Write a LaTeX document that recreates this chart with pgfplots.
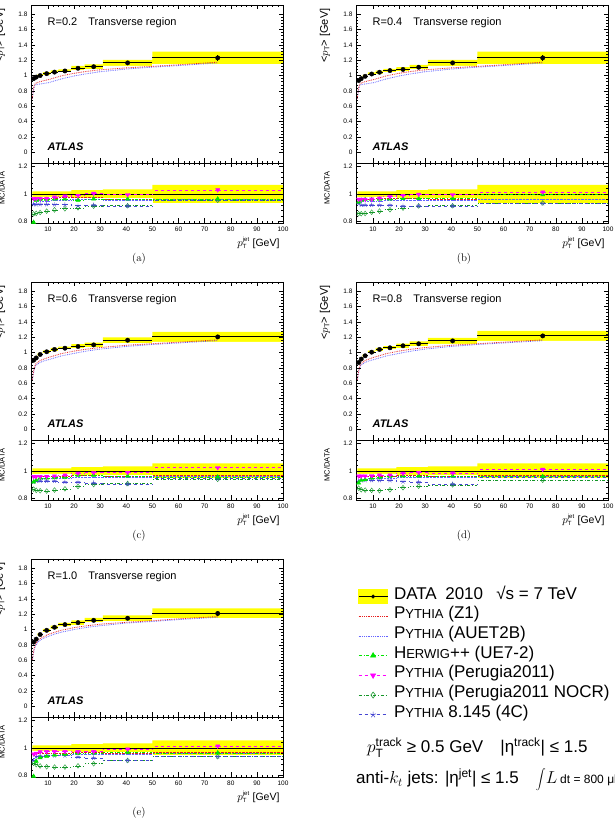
\documentclass[border=0pt]{standalone}
\usepackage{fontspec}
\usepackage{pgfplots}
\pgfplotsset{compat=1.18}
\usepackage{pgfplotstable}
\newfontfamily\arial{Liberation Sans}

\definecolor{bandyellow}{RGB}{255,255,0}
\definecolor{z1red}{RGB}{230,30,30}
\definecolor{aublue}{RGB}{100,100,255}
\definecolor{hwgreen}{RGB}{0,230,0}
\definecolor{pemag}{RGB}{255,0,255}
\definecolor{ncgreen}{RGB}{20,150,40}
\definecolor{p8blue}{RGB}{70,70,210}

\newcommand\sco[1]{{\fontsize{13}{13}\selectfont #1}}

% bin table: centre, half width, data, stat. error, data/data, MC/data ratios
\pgfplotstableread{
x xe y ey r z1 au hw pe nc p8
4.5 0.5 0.960 0.008 1 0.955 0.935 0.795 0.967 0.856 0.925
5.5 0.5 0.980 0.008 1 0.960 0.940 0.955 0.967 0.860 0.925
7 1 1.000 0.008 1 0.965 0.945 0.960 0.967 0.866 0.925
9.5 1.5 1.025 0.008 1 0.970 0.950 0.960 0.968 0.876 0.925
12.5 1.5 1.045 0.008 1 0.970 0.955 0.965 0.978 0.885 0.924
16.5 2.5 1.060 0.010 1 0.975 0.955 0.965 0.986 0.893 0.922
21.5 2.5 1.095 0.010 1 0.975 0.960 0.955 0.990 0.900 0.915
27.5 3.5 1.115 0.012 1 0.975 0.960 0.965 1.005 0.912 0.920
40.5 9.5 1.165 0.015 1 0.965 0.955 0.965 0.995 0.915 0.914
75 25 1.230 0.035 1 0.965 0.960 0.965 1.030 0.955 0.958
}\ptsA
\pgfplotstableread{
x xe y ey r z1 au hw pe nc p8
4.5 0.5 0.935 0.008 1 0.955 0.935 0.943 0.962 0.857 0.930
5.5 0.5 0.960 0.008 1 0.960 0.940 0.955 0.962 0.857 0.921
7 1 0.990 0.008 1 0.965 0.945 0.960 0.962 0.859 0.921
9.5 1.5 1.020 0.008 1 0.965 0.950 0.960 0.963 0.868 0.921
12.5 1.5 1.043 0.008 1 0.970 0.950 0.962 0.971 0.876 0.921
16.5 2.5 1.065 0.010 1 0.970 0.955 0.965 0.980 0.886 0.921
21.5 2.5 1.080 0.010 1 0.970 0.955 0.967 0.990 0.898 0.914
27.5 3.5 1.108 0.012 1 0.970 0.955 0.967 0.998 0.914 0.914
40.5 9.5 1.165 0.015 1 0.965 0.955 0.967 0.995 0.915 0.914
75 25 1.230 0.035 1 0.965 0.960 0.995 1.014 0.935 0.933
}\ptsB
\pgfplotstableread{
x xe y ey r z1 au hw pe nc p8
4.5 0.5 0.900 0.008 1 0.955 0.930 0.921 0.960 0.869 0.921
5.5 0.5 0.930 0.008 1 0.955 0.935 0.936 0.960 0.860 0.929
7 1 0.975 0.008 1 0.960 0.940 0.950 0.960 0.857 0.929
9.5 1.5 1.010 0.008 1 0.960 0.945 0.950 0.961 0.855 0.929
12.5 1.5 1.040 0.008 1 0.965 0.945 0.952 0.964 0.862 0.929
16.5 2.5 1.057 0.010 1 0.965 0.950 0.955 0.971 0.871 0.921
21.5 2.5 1.079 0.010 1 0.970 0.955 0.970 0.983 0.888 0.921
27.5 3.5 1.100 0.012 1 0.970 0.955 0.970 0.988 0.902 0.914
40.5 9.5 1.161 0.015 1 0.965 0.955 0.964 0.990 0.910 0.905
75 25 1.204 0.030 1 0.970 0.960 0.957 1.024 0.940 0.945
}\ptsC
\pgfplotstableread{
x xe y ey r z1 au hw pe nc p8
4.5 0.5 0.870 0.008 1 0.955 0.930 0.914 0.964 0.876 0.925
5.5 0.5 0.915 0.008 1 0.955 0.935 0.933 0.964 0.864 0.933
7 1 0.958 0.008 1 0.960 0.940 0.938 0.964 0.862 0.933
9.5 1.5 1.005 0.008 1 0.960 0.945 0.950 0.966 0.860 0.933
12.5 1.5 1.040 0.008 1 0.965 0.945 0.955 0.971 0.857 0.933
16.5 2.5 1.062 0.010 1 0.965 0.950 0.960 0.971 0.864 0.933
21.5 2.5 1.088 0.010 1 0.970 0.955 0.965 0.983 0.879 0.924
27.5 3.5 1.114 0.012 1 0.970 0.955 0.965 0.990 0.890 0.921
40.5 9.5 1.152 0.015 1 0.965 0.955 0.965 0.986 0.900 0.905
75 25 1.217 0.030 1 0.970 0.960 0.960 1.012 0.933 0.952
}\ptsD
\pgfplotstableread{
x xe y ey r z1 au hw pe nc p8
4.5 0.5 0.836 0.008 1 0.950 0.925 0.795 0.957 0.890 0.910
5.5 0.5 0.875 0.008 1 0.955 0.930 0.905 0.962 0.880 0.938
7 1 0.935 0.008 1 0.960 0.935 0.930 0.972 0.870 0.943
9.5 1.5 0.990 0.008 1 0.960 0.940 0.940 0.974 0.864 0.945
12.5 1.5 1.030 0.008 1 0.965 0.945 0.950 0.974 0.862 0.945
16.5 2.5 1.065 0.010 1 0.965 0.950 0.955 0.974 0.862 0.945
21.5 2.5 1.090 0.010 1 0.970 0.955 0.960 0.974 0.871 0.936
27.5 3.5 1.120 0.012 1 0.970 0.955 0.965 0.974 0.886 0.929
40.5 9.5 1.147 0.015 1 0.965 0.955 0.970 0.993 0.910 0.910
75 25 1.210 0.030 1 0.970 0.960 0.965 1.014 0.938 0.938
}\ptsE

% systematic bands at the bin edges (main panel and ratio panel)
\pgfplotstableread{
xe lo hi rlo rhi
4 0.941 0.979 0.980 1.020
5 0.960 1.000 0.980 1.020
6 0.980 1.020 0.980 1.020
8 1.004 1.046 0.980 1.020
11 1.024 1.066 0.980 1.020
14 1.039 1.081 0.980 1.020
19 1.064 1.126 0.972 1.028
24 1.084 1.146 0.972 1.028
31 1.127 1.203 0.967 1.033
50 1.149 1.311 0.934 1.066
100 1.149 1.311 0.934 1.066
}\bandA
\pgfplotstableread{
xe lo hi rlo rhi
4 0.916 0.954 0.980 1.020
5 0.941 0.979 0.980 1.020
6 0.970 1.010 0.980 1.020
8 1.000 1.040 0.980 1.020
11 1.022 1.064 0.980 1.020
14 1.044 1.086 0.980 1.020
19 1.050 1.110 0.972 1.028
24 1.077 1.139 0.972 1.028
31 1.127 1.203 0.967 1.033
50 1.149 1.311 0.934 1.066
100 1.149 1.311 0.934 1.066
}\bandB
\pgfplotstableread{
xe lo hi rlo rhi
4 0.882 0.918 0.980 1.020
5 0.911 0.949 0.980 1.020
6 0.955 0.995 0.980 1.020
8 0.990 1.030 0.980 1.020
11 1.019 1.061 0.980 1.020
14 1.036 1.078 0.980 1.020
19 1.049 1.109 0.972 1.028
24 1.069 1.131 0.972 1.028
31 1.123 1.199 0.967 1.033
50 1.139 1.269 0.945 1.055
100 1.139 1.269 0.945 1.055
}\bandC
\pgfplotstableread{
xe lo hi rlo rhi
4 0.853 0.887 0.980 1.020
5 0.897 0.933 0.980 1.020
6 0.939 0.977 0.980 1.020
8 0.985 1.025 0.980 1.020
11 1.019 1.061 0.980 1.020
14 1.041 1.083 0.980 1.020
19 1.058 1.118 0.972 1.028
24 1.083 1.145 0.972 1.028
31 1.114 1.190 0.967 1.033
50 1.152 1.282 0.945 1.055
100 1.152 1.282 0.945 1.055
}\bandD
\pgfplotstableread{
xe lo hi rlo rhi
4 0.819 0.853 0.980 1.020
5 0.857 0.893 0.980 1.020
6 0.916 0.954 0.980 1.020
8 0.970 1.010 0.980 1.020
11 1.009 1.051 0.980 1.020
14 1.044 1.086 0.980 1.020
19 1.059 1.121 0.972 1.028
24 1.089 1.151 0.972 1.028
31 1.109 1.185 0.967 1.033
50 1.145 1.275 0.945 1.055
100 1.145 1.275 0.945 1.055
}\bandE

% fine MC predictions drawn in the main panels
\pgfplotstableread{
x z1 au
4 0.70 0.70
4.4 0.82 0.80
4.8 0.88 0.86
5.3 0.90 0.88
6 0.91 0.885
7 0.92 0.89
8 0.93 0.895
10 0.945 0.905
12.5 0.97 0.93
15 0.995 0.955
20 1.03 0.995
25 1.055 1.025
30 1.075 1.05
40 1.10 1.085
50 1.12 1.11
60 1.14 1.13
75 1.175 1.165
}\curveA
\pgfplotstableread{
x z1 au
4 0.64 0.64
4.4 0.74 0.72
4.8 0.81 0.79
5.3 0.85 0.83
6 0.87 0.85
7 0.895 0.87
8 0.91 0.885
10 0.935 0.905
12.5 0.96 0.93
15 0.985 0.955
20 1.02 0.99
25 1.045 1.02
30 1.065 1.045
40 1.095 1.08
50 1.115 1.105
60 1.135 1.125
75 1.165 1.155
}\curveC
\pgfplotstableread{
x z1 au
4 0.60 0.60
4.4 0.70 0.68
4.8 0.77 0.75
5.3 0.81 0.79
6 0.85 0.83
7 0.88 0.86
8 0.90 0.88
10 0.935 0.91
12.5 0.965 0.94
15 0.99 0.965
20 1.025 1.0
25 1.05 1.03
30 1.07 1.05
40 1.095 1.085
50 1.115 1.105
60 1.14 1.13
75 1.17 1.16
}\curveE

\pgfplotsset{
  rootaxis/.style={
    scale only axis, width=252pt,
    xmin=3.5, xmax=100,
    xtick={10,20,30,40,50,60,70,80,90,100}, minor x tick num=4,
    tick align=inside, major tick length=4.5pt, minor tick length=2.2pt,
    every tick/.style={black, line width=0.45pt},
    axis line style={line width=0.6pt},
    tick label style={font=\arial\fontsize{6.5}{7}\selectfont},
    /pgf/number format/assume math mode=true,
    axis on top,
  },
  mainaxis/.style={
    rootaxis, height=158pt,
    ymin=-0.14, ymax=1.92,
    ytick={0,0.2,0.4,0.6,0.8,1,1.2,1.4,1.6,1.8}, minor y tick num=4,
    xticklabels={},
    ylabel={{<}$p_{\mbox{\fontsize{7}{7}\selectfont T}}${>} [GeV]},
    every axis y label/.style={at={(axis description cs:-0.123,1)}, rotate=90,
      anchor=east, font=\arial\fontsize{11}{12}\selectfont},
  },
  ratioaxis/.style={
    rootaxis, height=60pt,
    ymin=0.79, ymax=1.225,
    ytick={0.8,1,1.2}, minor y tick num=4,
    ylabel={MC/DATA},
    every axis y label/.style={at={(axis description cs:-0.115,0.58)}, rotate=90,
      anchor=center, font=\arial\fontsize{7.5}{8}\selectfont},
    xlabel={$p^{\mbox{\fontsize{6}{6}\selectfont jet}}_{\mbox{\fontsize{6}{6}\selectfont T}}$ [GeV]},
    every axis x label/.style={at={(axis description cs:1,0)}, anchor=base east,
      yshift=-24pt, font=\arial\fontsize{10.5}{12}\selectfont},
  },
  % horizontal bin bars only, no centre marks
  binbar/.style n args={2}{only marks, mark=text, text mark={},
    error bars/x dir=both, error bars/x explicit, error bars/error mark=none,
    error bars/error bar style={draw=#1, #2}},
  mcbar/.style n args={2}{only marks, color=#1,
    error bars/x dir=both, error bars/x explicit, error bars/error mark=none,
    error bars/error bar style={#1, #2, line width=0.6pt}},
}

% #1 left, #2 top, #3 top of ratio panel, #4 jet radius, #5 bins, #6 bands, #7 MC curves
\newcommand\drawpanel[7]{%
  \begin{axis}[mainaxis, at={(#1,#2)}, anchor=north west]
    % band: yellow up to the upper edge, white below the lower edge
    \addplot[fill=bandyellow, draw=none, const plot, forget plot] table[x=xe, y=hi] {#6} \closedcycle;
    \addplot[fill=white, draw=white, line width=0.6pt, const plot, forget plot] table[x=xe, y=lo] {#6} \closedcycle;
    \addplot[aublue, densely dotted, line width=0.8pt] table[x=x, y=au] {#7};
    \addplot[z1red, densely dotted, line width=0.8pt] table[x=x, y=z1] {#7};
    \addplot[only marks, mark=*, mark size=2.2pt, black,
      error bars/x dir=both, error bars/x explicit, error bars/y dir=both,
      error bars/y explicit, error bars/error mark=none,
      error bars/error bar style={line width=0.9pt, black}]
      table[x=x, y=y, x error=xe, y error=ey] {#5};
    \node[anchor=base west, font=\arial\fontsize{11}{13}\selectfont]
      at (axis description cs:0.052,0.873) {R=#4\quad Transverse region};
    \node[anchor=base west, font=\arial\bfseries\itshape\fontsize{11}{13}\selectfont]
      at (axis description cs:0.052,0.078) {ATLAS};
  \end{axis}
  \begin{axis}[ratioaxis, at={(#1,#3)}, anchor=north west]
    \addplot[fill=bandyellow, draw=none, const plot, forget plot] table[x=xe, y=rhi] {#6} \closedcycle;
    \addplot[fill=white, draw=white, line width=0.4pt, const plot, forget plot] table[x=xe, y=rlo] {#6} \closedcycle;
    \addplot[binbar={black}{line width=0.9pt}] table[x=x, y=r, x error=xe] {#5};
    \addplot[binbar={z1red}{densely dotted, line width=0.7pt}] table[x=x, y=z1, x error=xe] {#5};
    \addplot[binbar={aublue}{densely dotted, line width=0.7pt}] table[x=x, y=au, x error=xe] {#5};
    \addplot[mark=diamond, mark size=2.4pt, mark options={solid, fill=white},
      mcbar={ncgreen}{dash dot}] table[x=x, y=nc, x error=xe] {#5};
    \addplot[mark=star, mark size=2.4pt, mark options={solid},
      mcbar={p8blue}{dashed}] table[x=x, y=p8, x error=xe] {#5};
    \addplot[mark=triangle*, mark size=2.4pt, mark options={solid},
      mcbar={hwgreen}{dash dot}] table[x=x, y=hw, x error=xe] {#5};
    \addplot[mark=triangle*, mark size=2.4pt, mark options={solid, rotate=180},
      mcbar={pemag}{dashed}] table[x=x, y=pe, x error=xe] {#5};
  \end{axis}
}

\begin{document}
\begin{tikzpicture}
  \drawpanel{31pt}{828pt}{670pt}{0.2}{\ptsA}{\bandA}{\curveA}
  \drawpanel{356pt}{828pt}{670pt}{0.4}{\ptsB}{\bandB}{\curveA}
  \drawpanel{31pt}{551pt}{393pt}{0.6}{\ptsC}{\bandC}{\curveC}
  \drawpanel{356pt}{551pt}{393pt}{0.8}{\ptsD}{\bandD}{\curveC}
  \drawpanel{31pt}{274pt}{116pt}{1.0}{\ptsE}{\bandE}{\curveE}

  % sub-figure captions
  \node[font=\fontsize{11}{13}\selectfont] at (139pt,574pt) {(a)};
  \node[font=\fontsize{11}{13}\selectfont] at (464pt,574pt) {(b)};
  \node[font=\fontsize{11}{13}\selectfont] at (139pt,297pt) {(c)};
  \node[font=\fontsize{11}{13}\selectfont] at (464pt,297pt) {(d)};
  \node[font=\fontsize{11}{13}\selectfont] at (139pt,20pt) {(e)};

  % legend
  \begin{axis}[hide axis, scale only axis, width=10pt, height=10pt,
      xmin=0, xmax=1, ymin=0, ymax=1,
      at={(358pt,246.5pt)}, anchor=north west,
      legend style={at={(0,1)}, anchor=north west, draw=none, fill=none,
        font=\arial\fontsize{17}{19}\selectfont, legend cell align=left,
        row sep=0pt, column sep=6pt, inner sep=0pt,
        nodes={inner sep=0pt, text height=12.5pt, text depth=7.2pt}},
      legend image code/.code={%
        \draw[mark repeat=2, mark phase=2, #1] plot coordinates {(0pt,0pt) (14.5pt,0pt) (29pt,0pt)};}]
    \addlegendimage{legend image code/.code={%
        \fill[bandyellow] (0pt,-7pt) rectangle (29pt,7pt);
        \draw[black, line width=0.8pt] (0pt,0pt) -- (29pt,0pt);
        \fill[black] (14.5pt,0pt) circle (1.8pt);}}
    \addlegendentry{DATA\enspace 2010\enspace\ √s = 7 TeV}
    \addlegendimage{z1red, densely dotted, line width=0.8pt}
    \addlegendentry{P\sco{YTHIA} (Z1)}
    \addlegendimage{aublue, densely dotted, line width=0.8pt}
    \addlegendentry{P\sco{YTHIA} (AUET2B)}
    \addlegendimage{hwgreen, dash dot, line width=0.6pt, mark=triangle*, mark size=3pt, mark options={solid}}
    \addlegendentry{H\sco{ERWIG}++ (UE7-2)}
    \addlegendimage{pemag, dashed, line width=0.6pt, mark=triangle*, mark size=3pt, mark options={solid, rotate=180}}
    \addlegendentry{P\sco{YTHIA} (Perugia2011)}
    \addlegendimage{ncgreen, dash dot, line width=0.6pt, mark=diamond, mark size=3pt, mark options={solid, fill=white}}
    \addlegendentry{P\sco{YTHIA} (Perugia2011 NOCR)}
    \addlegendimage{p8blue, dashed, line width=0.6pt, mark=star, mark size=3pt, mark options={solid}}
    \addlegendentry{P\sco{YTHIA} 8.145 (4C)}
  \end{axis}

  \node[anchor=base west, font=\arial\fontsize{17}{19}\selectfont, inner sep=0pt]
    at (367pt,80pt) {$p^{\mbox{\fontsize{12}{12}\selectfont track}}_{\mbox{\fontsize{12}{12}\selectfont T}}$ ≥ 0.5 GeV\quad |η$^{\mbox{\fontsize{12}{12}\selectfont track}}$| ≤ 1.5};
  \node[anchor=base west, font=\arial\fontsize{17}{19}\selectfont, inner sep=0pt]
    at (356pt,49pt) {anti-$k_t$ jets: |η$^{\mbox{\fontsize{12}{12}\selectfont jet}}$| ≤ 1.5\quad $\displaystyle\int\! L$\,{\fontsize{12}{13}\selectfont dt = 800 μb$^{\mbox{\fontsize{8}{8}\selectfont -1}}$}};

  \pgfresetboundingbox
  \useasboundingbox (0pt,0pt) rectangle (615pt,833pt);
\end{tikzpicture}
\end{document}
